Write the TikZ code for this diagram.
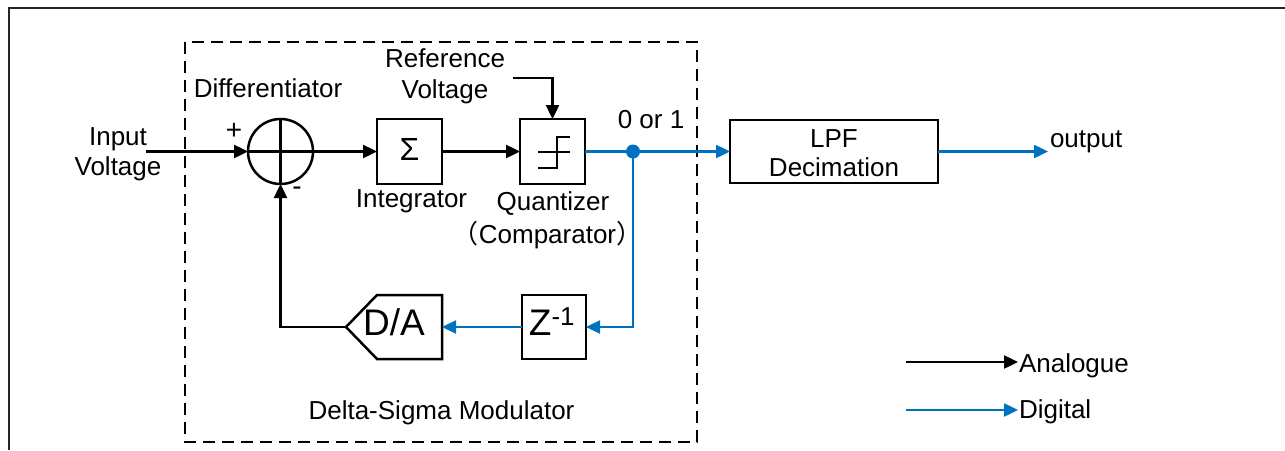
\documentclass[tikz,border=0pt]{standalone}
\usepackage{fontspec}
\setmainfont{Liberation Sans}
\newfontfamily\cjk{Noto Sans CJK SC}
\usetikzlibrary{arrows.meta}
\definecolor{digblue}{RGB}{0,112,192}
\begin{document}
\begin{tikzpicture}[x=1pt,y=-1pt,
  every node/.style={font=\fontsize{26}{30}\selectfont, inner sep=0pt, outer sep=0pt},
  blk/.style={draw, line width=2.5pt, minimum width=65pt, minimum height=65pt},
  ana/.style={line width=2.4pt, -{Triangle[length=14pt,width=13pt]}},
  dig/.style={line width=2.4pt, draw=digblue, -{Triangle[length=14pt,width=13pt]}, color=digblue},
  lbl/.style={anchor=base},
  big/.style={font=\fontsize{37}{40}\selectfont}
]
\useasboundingbox (0,0) rectangle (1285,450);
\fill[white] (0,0) rectangle (1285,450);
% outer frame (cropped)
\draw[line width=2pt, black!85] (9,450) -- (9,8) -- (1285,8);
% dashed modulator box
\draw[line width=2pt, dash pattern=on 12pt off 7pt] (185,42) rectangle (697,442);

% summing junction
\node[draw, circle, line width=2.5pt, minimum size=65pt] (sum) at (280.5,151.5) {};
\draw[line width=2.5pt] (sum.north) -- (sum.south) (sum.west) -- (sum.east);
% integrator
\node[blk] (integ) at (409.5,151.5) {};
\node[lbl, font=\fontsize{32}{34}\selectfont] (sig) at (409.5,160) {Σ};
% quantizer
\node[blk] (quant) at (552.5,151.5) {};
\draw[line width=2pt] ([shift={(-14.5,0.5)}]quant.center) -- ++(32,0);
\draw[line width=2pt] ([shift={(-14.5,16.5)}]quant.center) -- ++(19,0) -- ++(0,-31) -- ++(13,0);
% LPF
\node[draw, line width=2.5pt, minimum width=208pt, minimum height=63pt] (lpf) at (834,151.5) {};
\node[lbl] (lpft) at (834,147) {LPF};
\node[lbl] (dect) at (834,176) {Decimation};
% Z^-1
\node[blk, minimum width=64pt, minimum height=64pt] (zinv) at (554,327) {};
\node[big, lbl] (zt) at (552,335) {Z\textsuperscript{-1}};
% D/A
\coordinate (datip) at (346,327);
\coordinate (daright) at (442,327);
\draw[line width=2.5pt, line join=miter] (datip) -- (377,295) -- (442,295) -- (442,359) -- (377,359) -- cycle;
\node[big, lbl] (dat) at (394,335) {D/A};

% junction dot
\node[circle, fill=digblue, minimum size=14pt] (jn) at (633,151.5) {};

% coordinates for free ends
\coordinate (inp) at (146,151.5);
\coordinate (ref) at (513,78);
\coordinate (outp) at (1048,151.5);

% analogue connectors
\draw[ana] (inp) -- (sum.west);
\draw[ana] (sum.east) -- (integ.west);
\draw[ana] (integ.east) -- (quant.west);
\draw[ana] (ref) -| (quant.north);
\draw[ana] (datip) -| (sum.south);
% digital connectors
\draw[dig] (quant.east) -- (lpf.west);
\draw[dig] (jn.center) |- (zinv.east);
\draw[dig] (zinv.west) -- (daright);
\draw[dig] (lpf.east) -- (outp);

% labels
\node[align=center] (inlbl) at (118,154) {Input\\Voltage};
\node[lbl] (diff) at (268,97) {Differentiator};
\node[lbl] (ref1) at (445,67) {Reference};
\node[lbl] (ref2) at (445,98) {Voltage};
\node[font=\fontsize{28}{30}\selectfont] (plus) at (234,131) {+};
\node[font=\fontsize{28}{30}\selectfont] (minus) at (297,191) {-};
\node[lbl] (intl) at (411.5,207) {Integrator};
\node[lbl] (qntl) at (553,210) {Quantizer};
\node[lbl] (cmpl) at (547.5,243) {{\cjk （}Comparator{\cjk ）}};
\node[lbl] (bit) at (651,128) {0 or 1};
\node[lbl, anchor=base west] (outl) at (1050,147) {output};
\node[lbl] (dsm) at (441.5,419) {Delta-Sigma Modulator};

% legend
\coordinate (la1) at (906,362);
\coordinate (la2) at (1018,362);
\coordinate (ld1) at (906,410);
\coordinate (ld2) at (1018,410);
\draw[ana] (la1) -- (la2);
\draw[dig] (ld1) -- (ld2);
\node[anchor=base west] (anal) at (1019,372) {Analogue};
\node[anchor=base west] (digl) at (1019,418) {Digital};
\end{tikzpicture}
\end{document}
